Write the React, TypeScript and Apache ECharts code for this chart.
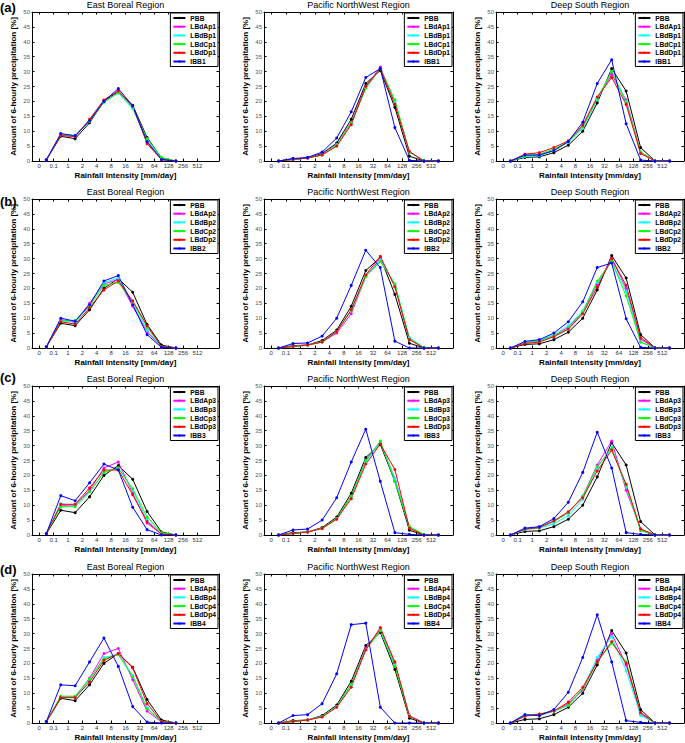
import React, { useEffect, useRef } from "react";
import * as echarts from "echarts";

const intensityLabels = ["0", "0.1", "1", "2", "4", "8", "16", "32", "64", "128", "256", "512"];
const tickPositions = [0, 1, 2, 3, 4, 5, 6, 7, 8, 9, 10, 11];
const binCentres = [0.5, 1.5, 2.5, 3.5, 4.5, 5.5, 6.5, 7.5, 8.5, 9.5, 10.5, 11.5];
const regionNames = ["East Boreal Region", "Pacific NorthWest Region", "Deep South Region"];
const panelTags = ["(a)", "(b)", "(c)", "(d)"];
const modelPrefixes = ["LBdAp", "LBdBp", "LBdCp", "LBdDp", "IBB"];
const seriesColors = ["#000000", "#ff00ff", "#00ffff", "#00ff00", "#ff0000", "#0000ff"];

// observations (PBB) per region
const pbbEastBoreal = [0.4, 8.3, 7.5, 12.8, 20, 23.3, 18.7, 7.9, 1, 0];
const pbbPacificNW = [0, 0.8, 1, 2.5, 6, 14, 26, 30.4, 18, 1.6, 0, 0];
const pbbDeepSouth = [0, 1.2, 1.4, 2.8, 5.3, 10, 19.5, 31, 23.5, 4.5, 0, 0];

// experiments: LBdA, LBdB, LBdC, LBdD, IBB
const eastBoreal1 = [
  [0.4, 8.8, 8.3, 13.5, 20.3, 23.5, 18, 6.5, 0.5, 0],
  [0.4, 9, 8.5, 13.3, 19.8, 22.8, 17.5, 7, 0.8, 0],
  [0.4, 8.8, 8.5, 13.5, 19.7, 23, 18, 7.5, 1.2, 0],
  [0.4, 8.5, 8.2, 14, 20.5, 23.5, 18.5, 5.8, 0.5, 0],
  [0.4, 9.2, 8.5, 13.5, 20, 24.3, 18.5, 6.5, 0.5, 0],
];
const pacificNW1 = [
  [0, 0.5, 1, 2.2, 5.5, 13, 25, 31.5, 19.5, 3, 0, 0],
  [0, 0.5, 1, 2, 5.5, 12.5, 24.5, 31, 20, 3, 0.2, 0],
  [0, 0.5, 1, 2, 5.3, 12.8, 24.5, 31, 20.5, 3, 0.2, 0],
  [0, 0.5, 1, 2, 5, 12.2, 25, 31, 19, 3.2, 0, 0],
  [0, 0.8, 1.2, 3, 7.7, 16.5, 28, 31, 11.2, 0.2, 0, 0],
];
const deepSouth1 = [
  [0, 1.8, 2, 3.5, 6.5, 11.5, 21, 29, 20.5, 3, 0, 0],
  [0, 1.5, 1.8, 3.5, 6.3, 11, 20.5, 30, 20, 2.5, 0, 0],
  [0, 1.8, 2.3, 4, 6.5, 11.5, 21, 30, 19.5, 3, 0, 0],
  [0, 2.3, 2.8, 4.5, 6.8, 12, 21.5, 28, 19, 2.5, 0, 0],
  [0, 2, 2, 3.5, 6.5, 13, 26, 34, 12.5, 0.3, 0, 0],
];
const eastBoreal2 = [
  [0.4, 9.5, 8.8, 15, 21.5, 23, 14, 5.5, 0.3, 0],
  [0.4, 9.2, 8.5, 14.5, 22, 23.5, 15, 6, 0.3, 0],
  [0.4, 9, 9.3, 14, 21, 22, 15.5, 7, 0.5, 0],
  [0.4, 8.8, 8, 13.5, 19.5, 22.5, 15.8, 7.5, 0.5, 0],
  [0.4, 10, 9, 14.5, 22.5, 24.3, 14.5, 4.5, 0.2, 0],
];
const pacificNW2 = [
  [0, 0.5, 1, 2, 5, 11.5, 24, 30, 21, 3, 0, 0],
  [0, 0.5, 1, 2, 5.5, 12.5, 24, 29.5, 21.5, 3.5, 0.2, 0],
  [0, 0.5, 1, 2, 5.5, 12.5, 24, 29, 21.5, 3, 0.2, 0],
  [0, 0.5, 1, 2, 5.5, 12.8, 24.5, 30.8, 20.5, 2.8, 0, 0],
  [0, 1.5, 1.7, 4, 10, 21, 32.8, 27, 2.3, 0, 0, 0],
];
const deepSouth2 = [
  [0, 1.8, 2.5, 4, 7, 12, 21.5, 30, 20, 3, 0, 0],
  [0, 1.8, 2.5, 4.5, 7.5, 12.5, 22, 29, 19, 2, 0, 0],
  [0, 1.8, 2.3, 4, 6.5, 12, 22.5, 29, 17.5, 2, 0, 0],
  [0, 1.5, 2, 3.8, 6.3, 11.5, 20.5, 30, 21, 3.5, 0, 0],
  [0, 2.2, 2.8, 5, 8.8, 15.5, 27, 28.5, 9.8, 0.2, 0, 0],
];
const eastBoreal3 = [
  [0.5, 10, 10, 15, 22.5, 24.5, 14, 4, 0.3, 0],
  [0.5, 10.5, 10, 14.5, 21, 22.5, 15, 5, 0.5, 0],
  [0.5, 9.5, 9.5, 14.5, 21, 22.5, 15.5, 6, 0.8, 0],
  [0.5, 10.3, 10.3, 15.8, 21.8, 21.8, 13.5, 4.5, 0.3, 0],
  [0.5, 13.2, 11.5, 17.5, 23.8, 21.8, 9.3, 1.8, 0, 0],
];
const pacificNW3 = [
  [0, 0.5, 1, 2.2, 5.5, 13, 25, 31, 19, 2.5, 0, 0],
  [0, 0.5, 1, 2.2, 5.5, 13, 24.5, 31, 19, 2.5, 0.2, 0],
  [0, 0.5, 1, 2.3, 5.5, 13, 25, 31.5, 18, 2.8, 0.2, 0],
  [0, 0.5, 1, 2.2, 5.3, 12.2, 23.8, 30.5, 22, 2.3, 0, 0],
  [0, 1.7, 2, 5, 12.5, 24.5, 35.5, 18, 0.8, 0.2, 0, 0],
];
const deepSouth3 = [
  [0, 2, 2.5, 4.5, 7.5, 13, 23.5, 31.5, 15, 2, 0, 0],
  [0, 1.8, 2.3, 3.8, 6.5, 12, 22.5, 29.5, 16, 1.5, 0, 0],
  [0, 2, 2.5, 4.5, 7.5, 13, 23, 29, 16.5, 1.5, 0, 0],
  [0, 2, 2.5, 4.8, 7.8, 12.5, 21.5, 28.5, 17, 2, 0, 0],
  [0, 2.3, 2.8, 5.5, 11, 21, 34.5, 22.5, 0.8, 0.2, 0, 0],
];
const eastBoreal4 = [
  [0.5, 8.8, 8.8, 15, 23.3, 25, 14.5, 4, 0.3, 0],
  [0.5, 8.8, 8.5, 14.5, 22, 23, 16, 5, 0.5, 0],
  [0.5, 9, 9, 14.8, 21.5, 23, 15.5, 4.8, 0.5, 0],
  [0.5, 8.5, 8.5, 13.8, 21, 23.3, 18.5, 6.5, 0.5, 0],
  [0.5, 12.8, 12.5, 20.5, 28.5, 19, 5.5, 0.3, 0, 0],
];
const pacificNW4 = [
  [0, 0.5, 1, 2.2, 5.5, 13, 25, 31.5, 20, 2.5, 0, 0],
  [0, 0.5, 1, 2.2, 5.5, 12.8, 24.5, 31, 19.5, 2.5, 0, 0],
  [0, 0.5, 1, 2.2, 5.5, 13, 24.5, 31, 19, 2.3, 0, 0],
  [0, 0.5, 1, 2, 5.3, 12, 24.5, 32, 20.5, 2.3, 0, 0],
  [0, 2.5, 2.8, 6.5, 16.5, 33, 33.5, 5.3, 0, 0, 0, 0],
];
const deepSouth4 = [
  [0, 2.5, 2.5, 4, 6.5, 11, 21, 30, 19.5, 3, 0, 0],
  [0, 2.8, 2.5, 4, 6, 11.5, 22, 29, 17.5, 2.5, 0, 0],
  [0, 2.5, 3, 4, 6, 11.5, 20.5, 26.8, 20.5, 3.5, 0, 0],
  [0, 2.3, 3, 4, 7, 12, 20.5, 27.3, 20, 3.5, 0, 0],
  [0, 2.8, 2.5, 4.5, 10.3, 22, 36.3, 20.5, 0.8, 0.2, 0, 0],
];

const pbbByRegion = [pbbEastBoreal, pbbPacificNW, pbbDeepSouth];
const experimentsByRow = [
  [eastBoreal1, pacificNW1, deepSouth1],
  [eastBoreal2, pacificNW2, deepSouth2],
  [eastBoreal3, pacificNW3, deepSouth3],
  [eastBoreal4, pacificNW4, deepSouth4],
];

const W = 685;
const H = 743;
const colLeft = [32, 264, 496];
const colWidth = [187, 189, 188];
const rowTop = [12, 199, 386, 574];
const plotH = 149;
const tagY = [7, 201, 377, 569];
const FONT = "'Liberation Sans', Arial, Helvetica, sans-serif";

function buildOption() {
  const grid: any[] = [];
  const xAxis: any[] = [];
  const yAxis: any[] = [];
  const series: any[] = [];
  const legend: any[] = [];
  const graphic: any[] = [];

  experimentsByRow.forEach((rowExps, r) => {
    const names = ["PBB", ...modelPrefixes.map((p) => p + (r + 1))];
    graphic.push({
      type: "text",
      x: 0,
      y: tagY[r],
      style: { text: panelTags[r], fontSize: 13, fontWeight: "bold", fontFamily: FONT, fill: "#000", verticalAlign: "middle" },
    });
    rowExps.forEach((exps, c) => {
      const gi = r * 3 + c;
      const left = colLeft[c];
      const top = rowTop[r];
      grid.push({ left, top, width: colWidth[c], height: plotH, show: false });
      graphic.push({
        type: "text",
        x: left + colWidth[c] / 2,
        y: top - 7,
        style: { text: regionNames[c], fontSize: 9, fontFamily: FONT, fill: "#000", align: "center", verticalAlign: "middle" },
      });
      const axisLine = { show: true, onZero: false, lineStyle: { color: "#000", width: 1 } };
      xAxis.push({
        gridIndex: gi,
        type: "value",
        min: -0.5,
        max: 12.5,
        position: "bottom",
        axisLine,
        axisTick: { show: true, inside: true, length: 2.5, customValues: tickPositions, lineStyle: { color: "#000" } },
        axisLabel: {
          show: true,
          customValues: tickPositions,
          formatter: (v: number) => intensityLabels[Math.round(v)] ?? "",
          fontSize: 6,
          color: "#333",
          margin: 2,
          fontFamily: FONT,
        },
        splitLine: { show: false },
        name: "Rainfall Intensity [mm/day]",
        nameLocation: "middle",
        nameGap: 10,
        nameTextStyle: { fontSize: 8, fontWeight: "bold", color: "#000", fontFamily: FONT },
      });
      xAxis.push({
        gridIndex: gi,
        type: "value",
        min: -0.5,
        max: 12.5,
        position: "top",
        axisLine,
        axisTick: { show: true, inside: true, length: 2.5, customValues: tickPositions, lineStyle: { color: "#000" } },
        axisLabel: { show: false },
        splitLine: { show: false },
      });
      yAxis.push({
        gridIndex: gi,
        type: "value",
        min: 0,
        max: 50,
        interval: 5,
        position: "left",
        axisLine,
        axisTick: { show: true, inside: true, length: 2.5, lineStyle: { color: "#000" } },
        axisLabel: { show: true, fontSize: 6, color: "#555", margin: 2, fontFamily: FONT },
        splitLine: { show: false },
        name: "Amount of 6-hourly precipitation [%]",
        nameLocation: "middle",
        nameGap: 15,
        nameTextStyle: { fontSize: 8, fontWeight: "bold", color: "#000", fontFamily: FONT },
      });
      yAxis.push({
        gridIndex: gi,
        type: "value",
        min: 0,
        max: 50,
        interval: 5,
        position: "right",
        axisLine,
        axisTick: { show: true, inside: true, length: 2.5, lineStyle: { color: "#000" } },
        axisLabel: { show: false },
        splitLine: { show: false },
      });
      const allVals = [pbbByRegion[c], ...exps];
      allVals.forEach((vals, s) => {
        series.push({
          type: "line",
          name: names[s],
          xAxisIndex: gi * 2,
          yAxisIndex: gi * 2,
          data: vals.map((v, i) => [binCentres[i], v]),
          symbol: "circle",
          symbolSize: 3,
          showSymbol: true,
          lineStyle: { color: seriesColors[s], width: 1 },
          itemStyle: { color: seriesColors[s] },
          emphasis: { disabled: true },
        });
      });
      legend.push({
        data: names,
        orient: "vertical",
        right: W - (left + colWidth[c]) + 1,
        top: top + 1,
        backgroundColor: "#fff",
        borderColor: "#000",
        borderWidth: 1,
        borderRadius: 0,
        padding: [1.5, 2, 1.5, 2],
        itemWidth: 12,
        itemHeight: 3,
        itemGap: 1.7,
        selectedMode: false,
        itemStyle: { borderWidth: 0 },
        textStyle: { fontSize: 6.7, fontWeight: "bold", lineHeight: 7, color: "#000", fontFamily: FONT },
      });
    });
  });

  return {
    animation: false,
    backgroundColor: "#fff",
    textStyle: { fontFamily: FONT },
    grid,
    xAxis,
    yAxis,
    series,
    legend,
    graphic,
  };
}

export default function App() {
  const ref = useRef<HTMLDivElement>(null);
  useEffect(() => {
    document.body.style.margin = "0";
    if (!ref.current) return;
    const chart = echarts.init(ref.current, undefined, { renderer: "svg", width: W, height: H });
    chart.setOption(buildOption() as any);
    return () => chart.dispose();
  }, []);
  return <div ref={ref} style={{ width: W, height: H }} />;
}
